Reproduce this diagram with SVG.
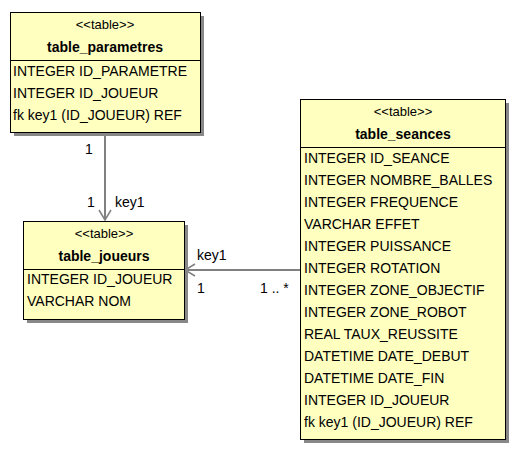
<svg xmlns="http://www.w3.org/2000/svg" width="520" height="453" viewBox="0 0 520 453">
<defs>
<style>
.box{fill:#ffffc0;stroke:#000;stroke-width:1}
.shadow{fill:#888}
.div{stroke:#000;stroke-width:1}
text{font-family:"Liberation Sans",Arial,sans-serif;font-size:14px;fill:#000}
.st{font-size:13px;text-anchor:middle}
.title{font-weight:bold;text-anchor:middle}
.conn{stroke:#808080;stroke-width:2;fill:none}
</style>
<marker id="open" markerUnits="userSpaceOnUse" markerWidth="14" markerHeight="14" refX="11" refY="7" orient="auto">
<path d="M1,1 L11,7 L1,13" fill="none" stroke="#808080" stroke-width="1.5"/>
</marker>
</defs>
<rect width="520" height="453" fill="#fff"/>
<g id="connectors">
<line class="conn" x1="105" y1="132" x2="105" y2="220" marker-end="url(#open)"/>
<line class="conn" x1="300" y1="270" x2="185" y2="270" marker-end="url(#open)"/>
<text x="85" y="154">1</text>
<text x="87" y="207">1</text>
<text x="115" y="207">key1</text>
<text x="197" y="260">key1</text>
<text x="197" y="293">1</text>
<text x="260" y="293">1 .. *</text>
</g>
<g id="table_parametres">
<rect class="shadow" x="14" y="16" width="190" height="120"/>
<rect class="box" x="10.5" y="12.5" width="190" height="120"/>
<line class="div" x1="10.5" y1="60.5" x2="200.5" y2="60.5"/>
<text class="st" x="105" y="29">&lt;&lt;table&gt;&gt;</text>
<text class="title" x="105" y="52">table_parametres</text>
<text x="13" y="76">INTEGER ID_PARAMETRE</text>
<text x="13" y="98">INTEGER ID_JOUEUR</text>
<text x="13" y="120">fk key1 (ID_JOUEUR) REF</text>
</g>
<g id="table_joueurs">
<rect class="shadow" x="27" y="225" width="161" height="98"/>
<rect class="box" x="23.5" y="221.5" width="161" height="98"/>
<line class="div" x1="23.5" y1="269.5" x2="184.5" y2="269.5"/>
<text class="st" x="104" y="238">&lt;&lt;table&gt;&gt;</text>
<text class="title" x="104" y="261">table_joueurs</text>
<text x="27" y="284">INTEGER ID_JOUEUR</text>
<text x="27" y="306">VARCHAR NOM</text>
</g>
<g id="table_seances">
<rect class="shadow" x="304" y="103" width="205" height="340"/>
<rect class="box" x="300.5" y="99.5" width="205" height="340"/>
<line class="div" x1="300.5" y1="147.5" x2="505.5" y2="147.5"/>
<text class="st" x="403" y="116">&lt;&lt;table&gt;&gt;</text>
<text class="title" x="403" y="139">table_seances</text>
<text x="304" y="163">INTEGER ID_SEANCE</text>
<text x="304" y="185">INTEGER NOMBRE_BALLES</text>
<text x="304" y="207">INTEGER FREQUENCE</text>
<text x="304" y="229">VARCHAR EFFET</text>
<text x="304" y="251">INTEGER PUISSANCE</text>
<text x="304" y="273">INTEGER ROTATION</text>
<text x="304" y="295">INTEGER ZONE_OBJECTIF</text>
<text x="304" y="317">INTEGER ZONE_ROBOT</text>
<text x="304" y="339">REAL TAUX_REUSSITE</text>
<text x="304" y="361">DATETIME DATE_DEBUT</text>
<text x="304" y="383">DATETIME DATE_FIN</text>
<text x="304" y="405">INTEGER ID_JOUEUR</text>
<text x="304" y="427">fk key1 (ID_JOUEUR) REF</text>
</g>
</svg>
